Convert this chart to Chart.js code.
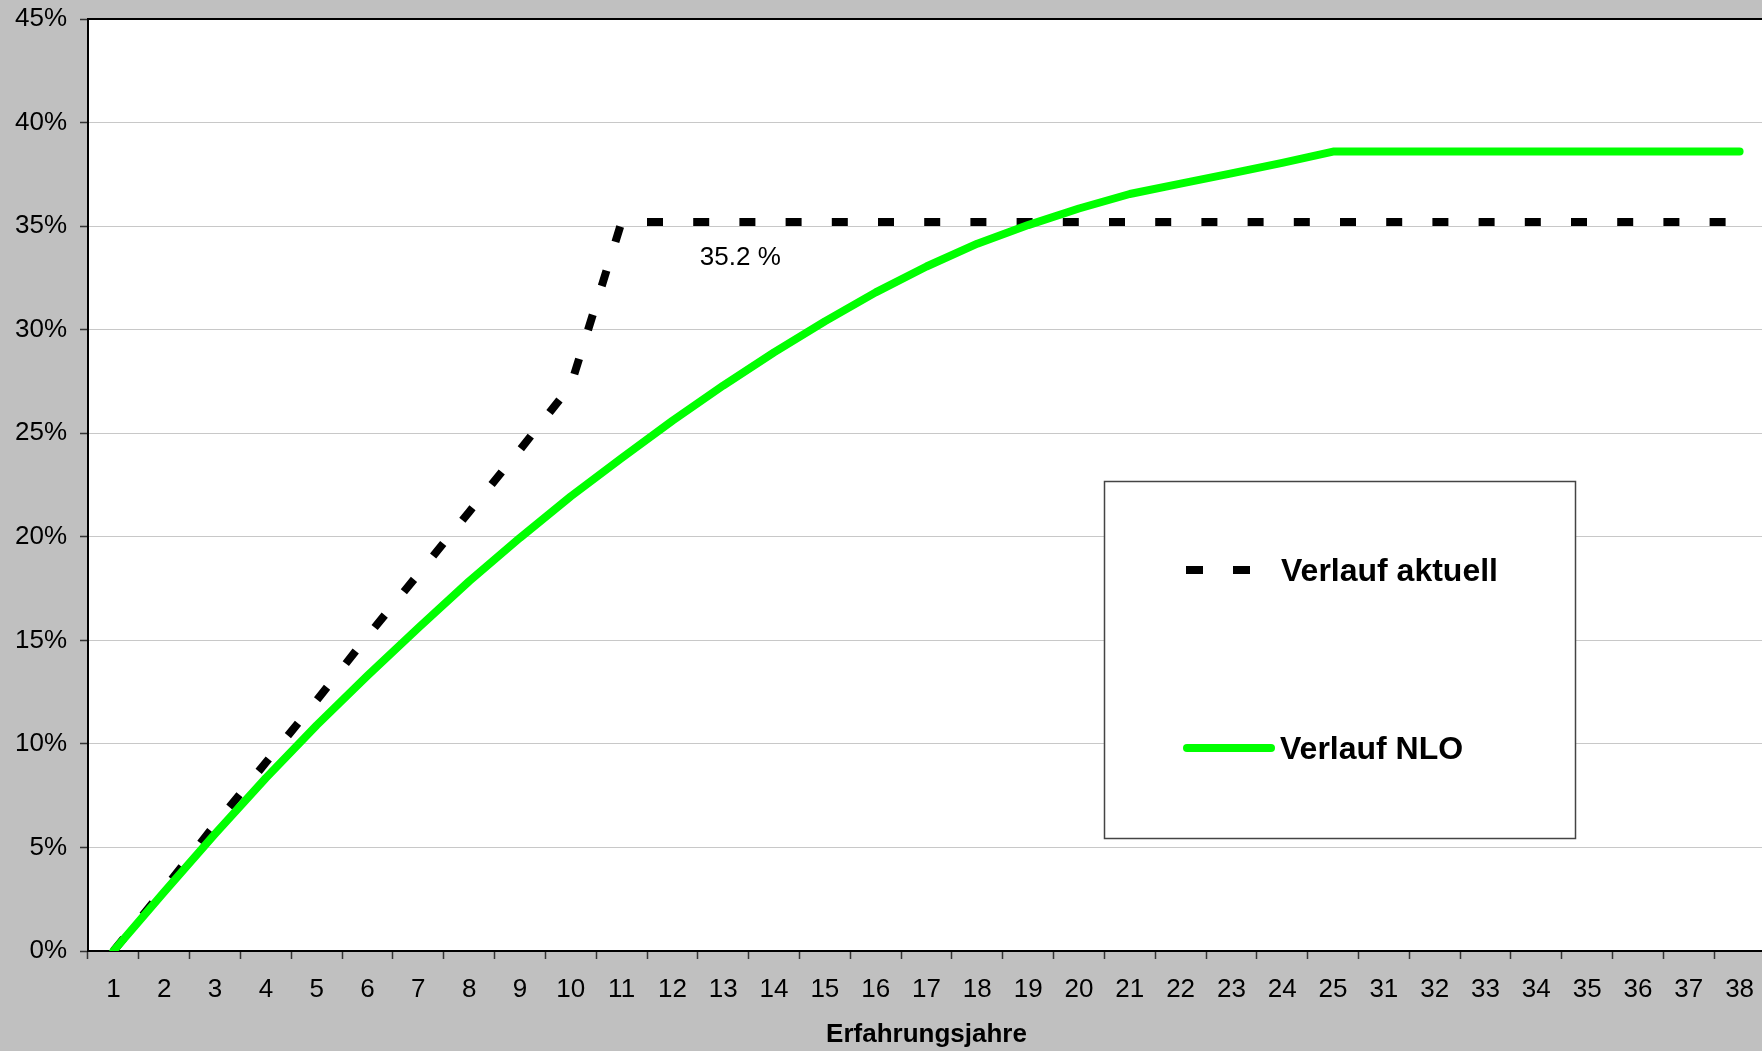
<!DOCTYPE html>
<html>
<head>
<meta charset="utf-8">
<title>Verlauf aktuell / Verlauf NLO</title>
<script src="https://cdn.jsdelivr.net/npm/chart.js@4.4.1/dist/chart.umd.min.js"></script>
<style>
  html, body { margin: 0; padding: 0; background: #c0c0c0; overflow: hidden; }
  #chart-box { width: 1768px; height: 1051px; }
</style>
</head>
<body>
<div id="chart-box"><canvas id="verlauf-chart" width="1768" height="1051"></canvas></div>
<script>
// Erfahrungsjahre (26 - 30 fehlen in der Vorlage)
const jahre = ["1", "2", "3", "4", "5", "6", "7", "8", "9", "10", "11", "12", "13",
  "14", "15", "16", "17", "18", "19", "20", "21", "22", "23", "24", "25",
  "31", "32", "33", "34", "35", "36", "37", "38"];

// Werte in Prozent
const verlaufAktuell = [0, 3.0, 6.1, 9.1, 12.1, 15.2, 18.2, 21.2, 24.2, 27.3, 35.2,
  35.2, 35.2, 35.2, 35.2, 35.2, 35.2, 35.2, 35.2, 35.2, 35.2, 35.2, 35.2, 35.2, 35.2,
  35.2, 35.2, 35.2, 35.2, 35.2, 35.2, 35.2, 35.2];

const verlaufNLO = [0, 2.85, 5.65, 8.35, 10.9, 13.3, 15.6, 17.85, 19.95, 21.95, 23.8,
  25.6, 27.3, 28.9, 30.4, 31.8, 33.05, 34.15, 35.05, 35.85, 36.55, 37.05, 37.55, 38.05, 38.6,
  38.6, 38.6, 38.6, 38.6, 38.6, 38.6, 38.6, 38.6];

const yMax = 45;
const yStep = 5;

const fontFamily = '"Liberation Sans", Arial, sans-serif';
Chart.defaults.font.family = fontFamily;
Chart.defaults.color = "#000";

// grauer Hintergrund, weisse Zeichenflaeche, obere Rahmenlinie
const chartBackground = {
  id: "chartBackground",
  beforeDraw(chart) {
    let ctx = chart.ctx;
    let a = chart.chartArea;
    ctx.save();
    ctx.fillStyle = "#c0c0c0";
    ctx.fillRect(0, 0, chart.width, chart.height);
    ctx.fillStyle = "#ffffff";
    ctx.fillRect(a.left, a.top, a.right - a.left, a.bottom - a.top);
    ctx.restore();
  },
  afterDraw(chart) {
    let ctx = chart.ctx;
    let a = chart.chartArea;
    ctx.save();
    ctx.strokeStyle = "#000";
    ctx.lineWidth = 2;
    ctx.beginPath();
    ctx.moveTo(a.left, a.top);
    ctx.lineTo(a.right, a.top);
    ctx.lineTo(a.right, a.bottom);
    ctx.stroke();
    ctx.restore();
  }
};

// Beschriftung "35.2 %"
const valueLabel = {
  id: "valueLabel",
  afterDatasetsDraw(chart, args, opts) {
    let ctx = chart.ctx;
    let x = chart.scales.x.getPixelForValue(opts.at[0]) + 2;
    let y = chart.scales.y.getPixelForValue(opts.at[1]);
    ctx.save();
    ctx.font = "26px " + fontFamily;
    ctx.fillStyle = "#000";
    ctx.textAlign = "left";
    ctx.textBaseline = "middle";
    ctx.fillText(opts.text, x, y);
    ctx.restore();
  }
};

// Legende im Kasten
const legendBox = {
  id: "legendBox",
  afterDraw(chart, args, opts) {
    let ctx = chart.ctx;
    let b = opts.box;
    ctx.save();
    ctx.fillStyle = "#ffffff";
    ctx.fillRect(b.x, b.y, b.w, b.h);
    ctx.strokeStyle = "#444";
    ctx.lineWidth = 1.5;
    ctx.strokeRect(b.x, b.y, b.w, b.h);

    chart.data.datasets.forEach(function (ds, i) {
      let item = opts.items[i];
      ctx.beginPath();
      ctx.strokeStyle = ds.borderColor;
      ctx.lineWidth = ds.borderWidth;
      ctx.lineCap = ds.borderCapStyle;
      ctx.setLineDash(item.dash);
      ctx.moveTo(item.x1, item.y);
      ctx.lineTo(item.x2, item.y);
      ctx.stroke();
      ctx.setLineDash([]);

      ctx.fillStyle = "#000";
      ctx.font = "bold 32px " + fontFamily;
      ctx.textAlign = "left";
      ctx.textBaseline = "middle";
      ctx.fillText(ds.label, item.tx, item.ty);
    });
    ctx.restore();
  }
};

const ctx = document.getElementById("verlauf-chart");

new Chart(ctx, {
  type: "line",
  data: {
    labels: jahre,
    datasets: [
      {
        label: "Verlauf aktuell",
        data: verlaufAktuell,
        borderColor: "#000000",
        borderWidth: 8,
        borderDash: [16, 30.2],
        borderCapStyle: "butt",
        pointRadius: 0,
        tension: 0,
        clip: 0,
        order: 1
      },
      {
        label: "Verlauf NLO",
        data: verlaufNLO,
        borderColor: "#00ff00",
        borderWidth: 8,
        borderCapStyle: "round",
        borderJoinStyle: "round",
        pointRadius: 0,
        tension: 0,
        clip: 0,
        order: 0
      }
    ]
  },
  options: {
    responsive: false,
    animation: false,
    devicePixelRatio: 1,
    layout: { padding: { top: 19, right: 3, bottom: 0, left: 0 } },
    scales: {
      x: {
        type: "category",
        offset: true,
        grid: {
          offset: true,
          drawOnChartArea: false,
          drawTicks: true,
          tickLength: 8,
          tickColor: "#333",
          tickWidth: 1.5
        },
        border: { display: true, color: "#000", width: 2 },
        ticks: {
          color: "#000",
          font: { size: 26 },
          padding: 15,
          maxRotation: 0,
          autoSkip: false
        },
        title: {
          display: true,
          text: "Erfahrungsjahre",
          color: "#000",
          font: { size: 26, weight: "bold" },
          padding: { top: 0, bottom: 1 }
        },
        afterFit: function (scale) {
          scale.height = 100;
          scale.paddingLeft = 0;
          scale.paddingRight = 0;
        }
      },
      y: {
        min: 0,
        max: yMax,
        ticks: {
          stepSize: yStep,
          color: "#000",
          font: { size: 26 },
          padding: 13,
          callback: function (v) { return v + "%"; }
        },
        grid: {
          color: function (c) {
            if (c.tick && (c.tick.value === 0 || c.tick.value === yMax)) return "rgba(0,0,0,0)";
            return "#c8c8c8";
          },
          lineWidth: 1,
          tickLength: 8,
          tickColor: "#333",
          tickWidth: 1.5
        },
        border: { display: true, color: "#000", width: 2 },
        afterFit: function (scale) {
          scale.width = 88;
          scale.paddingTop = 0;
          scale.paddingBottom = 0;
        }
      }
    },
    plugins: {
      legend: { display: false },
      tooltip: { enabled: false },
      valueLabel: { text: "35.2 %", at: [11.5, 33.45] },
      legendBox: {
        box: { x: 1104.5, y: 481.5, w: 471, h: 357 },
        items: [
          { x1: 1186, x2: 1250, y: 570, dash: [17, 30], tx: 1281, ty: 572 },
          { x1: 1187, x2: 1271, y: 748, dash: [], tx: 1280, ty: 750.5 }
        ]
      }
    }
  },
  plugins: [chartBackground, valueLabel, legendBox]
});
</script>
</body>
</html>
